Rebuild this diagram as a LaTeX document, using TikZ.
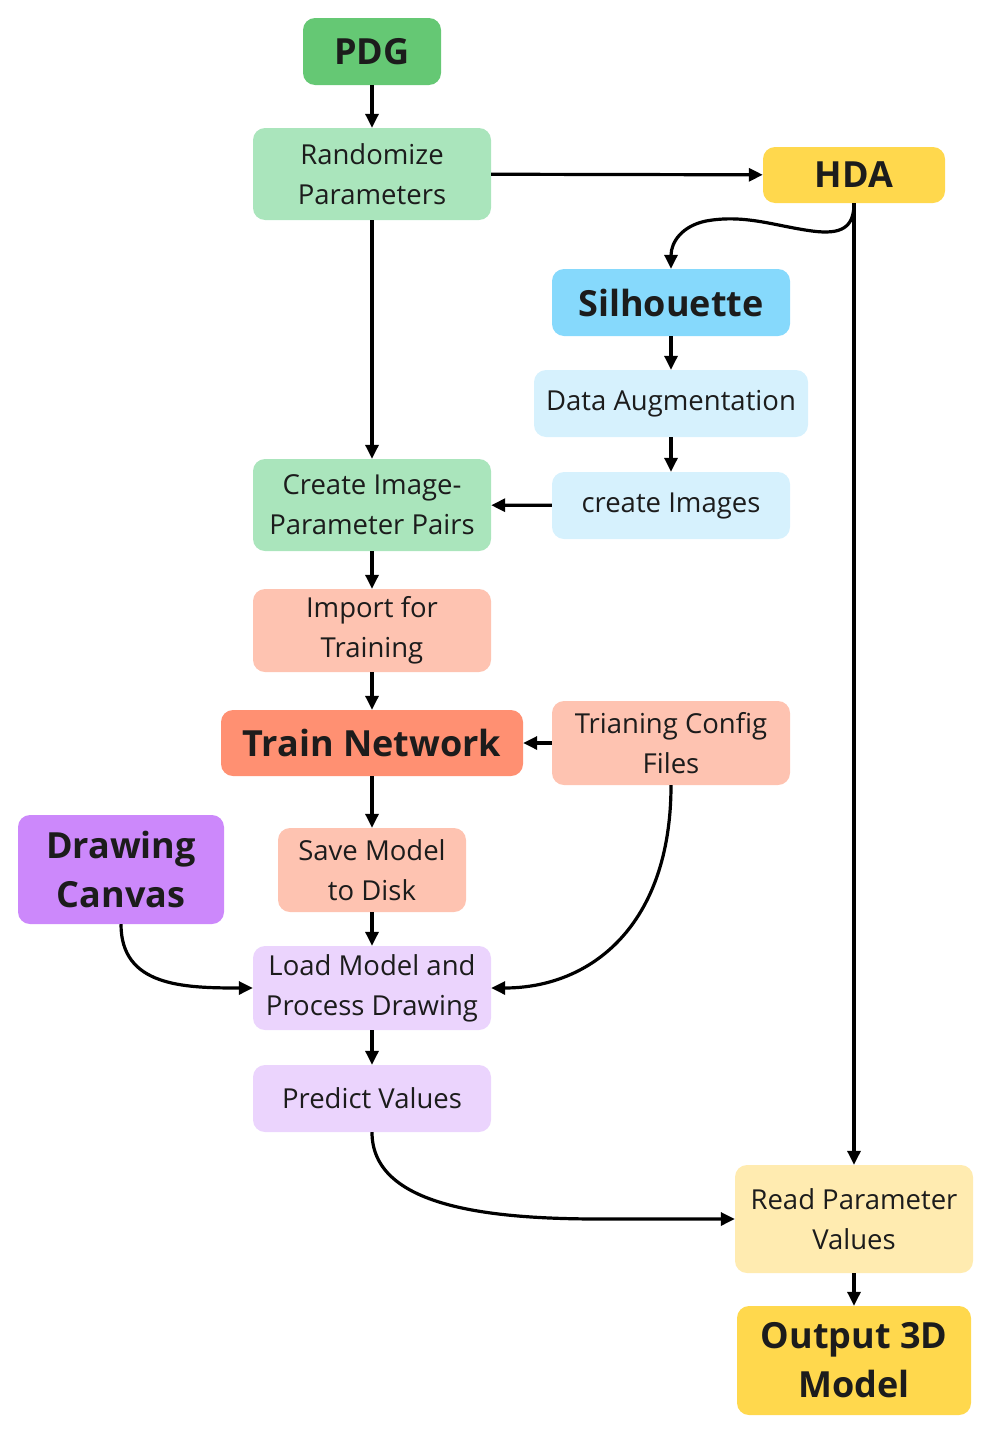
\documentclass[tikz,border=0pt]{standalone}
\usepackage{fontspec}
\setmainfont{Open Sans}
\usetikzlibrary{arrows.meta}
\definecolor{cpdg}{HTML}{65C874}
\definecolor{clgreen}{HTML}{AAE5BC}
\definecolor{cyellow}{HTML}{FFD84D}
\definecolor{cblue}{HTML}{86D9FC}
\definecolor{clblue}{HTML}{D6F1FD}
\definecolor{csalmon}{HTML}{FEC3B1}
\definecolor{ctrain}{HTML}{FF9072}
\definecolor{cpurple}{HTML}{CC88FB}
\definecolor{clpurple}{HTML}{EBD4FD}
\definecolor{clyellow}{HTML}{FFEBB0}
\definecolor{ctext}{HTML}{1C1C1C}
\tikzset{
  box/.style={rounded corners=12pt, inner sep=0pt, align=center, text=ctext,
    font=\fontsize{27.5}{40}\selectfont},
  bbox/.style={box, font=\fontsize{36}{49}\selectfont\bfseries},
  conn/.style={line width=3.2pt, -{Triangle[length=14pt,width=13pt]}},
}
\begin{document}
\begin{tikzpicture}[x=1pt,y=-1pt]
\useasboundingbox (0,0) rectangle (989,1432);
% nodes
\node[bbox, fill=cpdg, minimum width=138pt, minimum height=67pt] (pdg) at (372,51.5) {PDG};
\node[box, fill=clgreen, minimum width=238pt, minimum height=92pt] (rand) at (372,174) {Randomize\\Parameters};
\node[bbox, fill=cyellow, minimum width=182pt, minimum height=56pt] (hda) at (854,175) {HDA};
\node[bbox, fill=cblue, minimum width=238pt, minimum height=67pt] (sil) at (671,302.5) {Silhouette};
\node[box, fill=clblue, minimum width=274pt, minimum height=67pt] (aug) at (671,403.5) {Data Augmentation};
\node[box, fill=clblue, minimum width=238pt, minimum height=67pt] (img) at (671,505.5) {create Images};
\node[box, fill=clgreen, minimum width=238pt, minimum height=92pt] (pairs) at (372,505) {Create Image-\\Parameter Pairs};
\node[box, fill=csalmon, minimum width=238pt, minimum height=83pt] (imp) at (372,630.5) {Import for\\Training};
\node[bbox, fill=ctrain, minimum width=302pt, minimum height=66pt] (train) at (372,743) {Train Network};
\node[box, fill=csalmon, minimum width=238pt, minimum height=84pt] (cfg) at (671,743) {Trianing Config\\Files};
\node[bbox, fill=cpurple, minimum width=206pt, minimum height=109pt] (canvas) at (121,869.5) {Drawing\\Canvas};
\node[box, fill=csalmon, minimum width=188pt, minimum height=84pt] (save) at (372,870) {Save Model\\to Disk};
\node[box, fill=clpurple, minimum width=238pt, minimum height=84pt] (load) at (372,988) {Load Model and\\Process Drawing};
\node[box, fill=clpurple, minimum width=238pt, minimum height=67pt] (pred) at (372,1098.5) {Predict Values};
\node[box, fill=clyellow, minimum width=238pt, minimum height=108pt] (read) at (854,1219) {Read Parameter\\Values};
\node[bbox, fill=cyellow, minimum width=234pt, minimum height=109pt] (out) at (854,1360.5) {Output 3D\\Model};
% connectors
\draw[conn] (pdg) -- (rand);
\draw[conn] (rand) -- (hda);
\draw[conn] (rand) -- (pairs);
\draw[conn] (hda.south) .. controls +(0,24) and +(30,4) .. (812,231) .. controls (775,226) and (745,214) .. (706,221) .. controls (682,226) and (671,242) .. (sil.north);
\draw[conn] (hda) -- (read);
\draw[conn] (sil) -- (aug);
\draw[conn] (aug) -- (img);
\draw[conn] (img) -- (pairs);
\draw[conn] (pairs) -- (imp);
\draw[conn] (imp) -- (train);
\draw[conn] (cfg) -- (train);
\draw[conn] (train) -- (save);
\draw[conn] (save) -- (load);
\draw[conn] (canvas.south) .. controls +(0,62) and +(-70,0) .. (load.west);
\draw[conn] (cfg.south) .. controls +(0,140) and +(100,0) .. (load.east);
\draw[conn] (load) -- (pred);
\draw[conn] (pred.south) .. controls +(0,75) and +(-110,0) .. (600,1219) -- (read.west);
\draw[conn] (read) -- (out);
\end{tikzpicture}
\end{document}
